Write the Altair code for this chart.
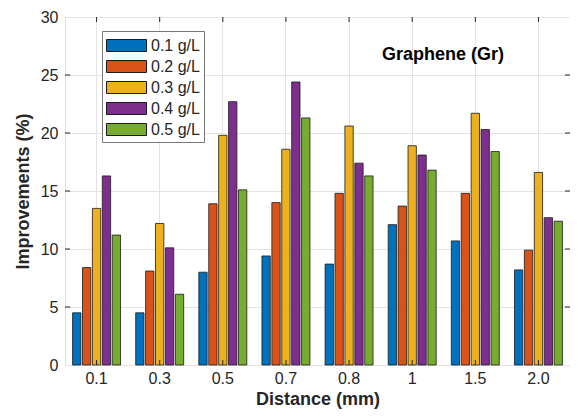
import altair as alt
import pandas as pd

distances = ["0.1", "0.3", "0.5", "0.7", "0.8", "1", "1.5", "2.0"]
series = ["0.1 g/L", "0.2 g/L", "0.3 g/L", "0.4 g/L", "0.5 g/L"]
v01 = [4.5, 4.5, 8.0, 9.4, 8.7, 12.1, 10.7, 8.2]
v02 = [8.4, 8.1, 13.9, 14.0, 14.8, 13.7, 14.8, 9.9]
v03 = [13.5, 12.2, 19.8, 18.6, 20.6, 18.9, 21.7, 16.6]
v04 = [16.3, 10.1, 22.7, 24.4, 17.4, 18.1, 20.3, 12.7]
v05 = [11.2, 6.1, 15.1, 21.3, 16.3, 16.8, 18.4, 12.4]
colors = ["#0072BD", "#D95319", "#EDB120", "#7E2F8E", "#77AC30"]
y_ticks = [5, 10, 15, 20, 25]

rows = []
for s, vals in zip(series, [v01, v02, v03, v04, v05]):
    for d, v in zip(distances, vals):
        rows.append({"dist": d, "conc": s, "val": v})
df = pd.DataFrame(rows)
dfx = pd.DataFrame({"dist": distances})
dfy = pd.DataFrame({"yt": y_ticks})

W, H = 505, 348
FONT = "Liberation Sans"

xscale = alt.Scale(domain=distances, paddingInner=0.24, paddingOuter=0.12)
yscale = alt.Scale(domain=[0, 30])

bars = alt.Chart(df).mark_bar(stroke="#1a1a1a", strokeWidth=0.8).encode(
    x=alt.X("dist:N", scale=xscale, sort=distances,
            axis=alt.Axis(title="Distance (mm)", labelAngle=0, ticks=False, domain=False,
                          grid=True, bandPosition=0.5, gridColor="#e3e3e3",
                          labelFontSize=16, labelPadding=5, titleFontSize=18,
                          titleFontWeight="bold", titlePadding=4)),
    xOffset=alt.XOffset("conc:N", sort=series, scale=alt.Scale(paddingInner=0.16)),
    y=alt.Y("val:Q", scale=yscale,
            axis=alt.Axis(title="Improvements (%)", values=[0, 5, 10, 15, 20, 25, 30],
                          ticks=False, domain=False, grid=True, gridColor="#e3e3e3",
                          labelFontSize=16, labelPadding=7, titleFontSize=18,
                          titleFontWeight="bold", titlePadding=8)),
    color=alt.Color("conc:N", sort=series,
                    scale=alt.Scale(domain=series, range=colors),
                    legend=alt.Legend(title=None, orient="none", legendX=37, legendY=14,
                                      symbolType="M-1,-0.6L3,-0.6L3,0.6L-1,0.6Z",
                                      symbolSize=400, symbolStrokeColor="#1a1a1a",
                                      symbolStrokeWidth=1, symbolOpacity=1,
                                      labelFontSize=16, labelOffset=24, rowPadding=2,
                                      fillColor="white", strokeColor="#777777",
                                      padding=4, labelColor="#262626")),
)

ytl = alt.Chart(dfy).mark_rule(color="#262626", strokeWidth=1).encode(
    y=alt.Y("yt:Q", scale=yscale), x=alt.value(0), x2=alt.value(5))
ytr = alt.Chart(dfy).mark_rule(color="#262626", strokeWidth=1).encode(
    y=alt.Y("yt:Q", scale=yscale), x=alt.value(W - 5), x2=alt.value(W))
xtb = alt.Chart(dfx).mark_rule(color="#262626", strokeWidth=1).encode(
    x=alt.X("dist:N", scale=xscale, sort=distances), y=alt.value(H - 5), y2=alt.value(H))
xtt = alt.Chart(dfx).mark_rule(color="#262626", strokeWidth=1).encode(
    x=alt.X("dist:N", scale=xscale, sort=distances), y=alt.value(0), y2=alt.value(5))

label = alt.Chart(pd.DataFrame({"t": ["Graphene (Gr)"]})).mark_text(
    fontSize=18, fontWeight="bold", font=FONT, color="#000000", align="center", baseline="middle"
).encode(text="t:N", x=alt.value(378), y=alt.value(38))

chart = alt.layer(bars, ytl, ytr, xtb, xtt, label).properties(
    width=W, height=H,
    autosize=alt.AutoSizeParams(type="none"),
    padding={"left": 57, "top": 9, "right": 0, "bottom": 47},
).configure_view(stroke="#262626", strokeWidth=1).configure(
    font=FONT
).configure_axis(labelColor="#262626", titleColor="#262626", labelFont=FONT, titleFont=FONT
).configure_legend(labelFont=FONT)

chart.save("out.html", embed_options={"renderer": "svg", "actions": False})
